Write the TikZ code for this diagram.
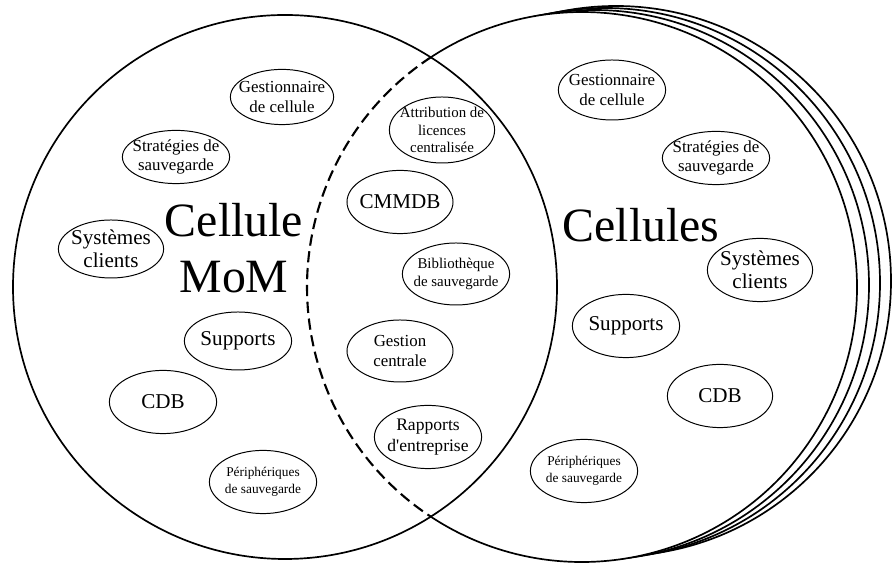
\documentclass[tikz,border=0pt]{standalone}
\usepackage{fontspec}
\setmainfont{Liberation Serif}
\usetikzlibrary{shapes.geometric}

\tikzset{
  cellline/.style={line width=1.2pt},
  oval/.style={draw, ellipse, line width=.7pt, inner sep=0pt, minimum width=2.68cm, minimum height=1.58cm},
  lbl/.style={align=center, font=\fontsize{12}{14}\selectfont},
  lblbig/.style={align=center, font=\fontsize{15}{16.5}\selectfont},
  lblsmall/.style={align=center, font=\fontsize{10.6}{12.2}\selectfont},
  lbltiny/.style={align=center, font=\fontsize{9.5}{12}\selectfont},
  title/.style={align=center, font=\fontsize{34}{40}\selectfont}
}

\begin{document}
\begin{tikzpicture}[x=0.025cm, y=0.025cm]
\useasboundingbox (0,0) rectangle (896,563);

% the other cells, stacked behind
\foreach \dx/\dy in {34/6, 23/4, 12/2}
  \draw[cellline, fill=white] ({582+\dx},{276+\dy}) circle (275);
\fill[white] (582,276) circle (275);

% MoM cell
\draw[cellline] (285,276) circle (272);

% front cell: solid outside, dashed inside the MoM cell
\draw[cellline] (582,276) ++(-123.3:275) arc (-123.3:123.3:275);
\draw[line width=1.5pt, dash pattern=on 8pt off 4pt] (582,276) ++(123.3:275) arc (123.3:236.7:275);

\node[title] (mom) at (234,315) {Cellule\\MoM};
\node[title] (cells) at (641,338) {Cellules};

% MoM cell
\node[oval, minimum width=2.58cm, minimum height=1.38cm, label={[lbl]center:Gestionnaire\\de cellule}] (gestL) at (282,466) {};
\node[oval, minimum height=1.33cm, label={[lbl]center:Stratégies de\\sauvegarde}] (stratL) at (176,406) {};
\node[oval, minimum width=2.63cm, minimum height=1.45cm, label={[lblbig]center:Systèmes\\clients}] (sysL) at (111,314) {};
\node[oval, minimum height=1.45cm, label={[lblbig]center:Supports}] (supL) at (238,222) {};
\node[oval, label={[lblbig]center:CDB}] (cdbL) at (163,161) {};
\node[oval, label={[lbltiny]center:Périphériques\\de sauvegarde}] (periL) at (263,81) {};

% shared part
\node[oval, minimum width=2.63cm, minimum height=1.65cm, label={[lblsmall]center:Attribution de\\licences\\centralisée}] (attr) at (442,433) {};
\node[oval, minimum width=2.65cm, label={[lblbig]center:CMMDB}] (cmmdb) at (400,361) {};
\node[oval, minimum height=1.55cm, label={[lblsmall]center:Bibliothèque\\de sauvegarde}] (biblio) at (456,289) {};
\node[oval, minimum width=2.65cm, minimum height=1.55cm, label={[lbl]center:Gestion\\centrale}] (gestC) at (400,212) {};
\node[oval, label={[lbl, font=\fontsize{12.5}{14.5}\selectfont]center:Rapports\\d\textquotesingle entreprise}] (rapp) at (428,126) {};

% other cells
\node[oval, minimum height=1.5cm, label={[lbl]center:Gestionnaire\\de cellule}] (gestR) at (612,473) {};
\node[oval, minimum height=1.33cm, label={[lbl]center:Stratégies de\\sauvegarde}] (stratR) at (716,405) {};
\node[oval, minimum width=2.63cm, label={[lblbig]center:Systèmes\\clients}] (sysR) at (760,293) {};
\node[oval, label={[lblbig]center:Supports}] (supR) at (626,237) {};
\node[oval, minimum width=2.63cm, label={[lblbig]center:CDB}] (cdbR) at (720,167) {};
\node[oval, label={[lbltiny]center:Périphériques\\de sauvegarde}] (periR) at (584,92) {};
\end{tikzpicture}
\end{document}
